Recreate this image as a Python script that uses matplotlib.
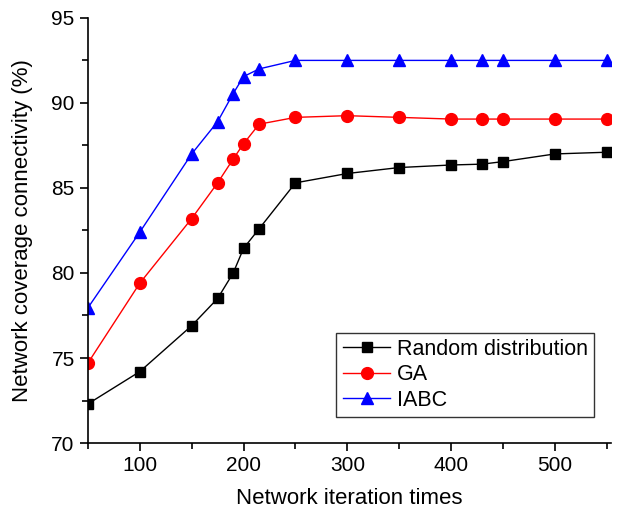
import matplotlib
matplotlib.use("Agg")
import matplotlib.pyplot as plt
from matplotlib.ticker import MultipleLocator

plt.rcParams['font.family'] = ['Liberation Sans', 'DejaVu Sans']

# iterations (x) and coverage connectivity (%) per method
iterations = [50, 100, 150, 175, 190, 200, 215, 250, 300, 350, 400, 430, 450, 500, 550]
random_dist = [72.3, 74.2, 76.9, 78.5, 80.0, 81.45, 82.6, 85.3, 85.85, 86.2, 86.35, 86.4, 86.55, 87.0, 87.1]
ga = [74.7, 79.4, 83.2, 85.3, 86.7, 87.6, 88.75, 89.15, 89.25, 89.15, 89.05, 89.05, 89.05, 89.05, 89.05]
iabc = [77.95, 82.4, 87.0, 88.9, 90.55, 91.55, 92.0, 92.5, 92.5, 92.5, 92.5, 92.5, 92.5, 92.5, 92.5]

fig = plt.figure(figsize=(6.19, 5.11), dpi=100)
ax = fig.add_axes([0.142, 0.133, 0.845, 0.832])

ax.plot(iterations, random_dist, color='black', lw=1, marker='s', ms=7.5, label='Random distribution')
ax.plot(iterations, ga, color='red', lw=1, marker='o', ms=8.5, label='GA')
ax.plot(iterations, iabc, color='blue', lw=1, marker='^', ms=9, label='IABC')

ax.set_xlim(50, 554)
ax.set_ylim(70, 95)
ax.xaxis.set_major_locator(MultipleLocator(100))
ax.xaxis.set_minor_locator(MultipleLocator(50))
ax.yaxis.set_major_locator(MultipleLocator(5))
ax.yaxis.set_minor_locator(MultipleLocator(2.5))

for side in ('top', 'right'):
    ax.spines[side].set_visible(False)
for side in ('left', 'bottom'):
    ax.spines[side].set_linewidth(1.2)
ax.tick_params(which='major', direction='out', length=6, width=1.2, labelsize=15)
ax.tick_params(which='minor', direction='out', length=4, width=1.2)

ax.set_xlabel('Network iteration times', fontsize=16, labelpad=9)
ax.set_ylabel('Network coverage connectivity (%)', fontsize=16, labelpad=13)

leg = ax.legend(loc='lower right', bbox_to_anchor=(0.968, 0.061), borderaxespad=0,
                fontsize=15.5, frameon=True, fancybox=False, edgecolor='black',
                handlelength=2.2, borderpad=0.3, labelspacing=0.2, handletextpad=0.3)
leg.get_frame().set_linewidth(1.0)

fig.savefig('out.png', dpi=100)
